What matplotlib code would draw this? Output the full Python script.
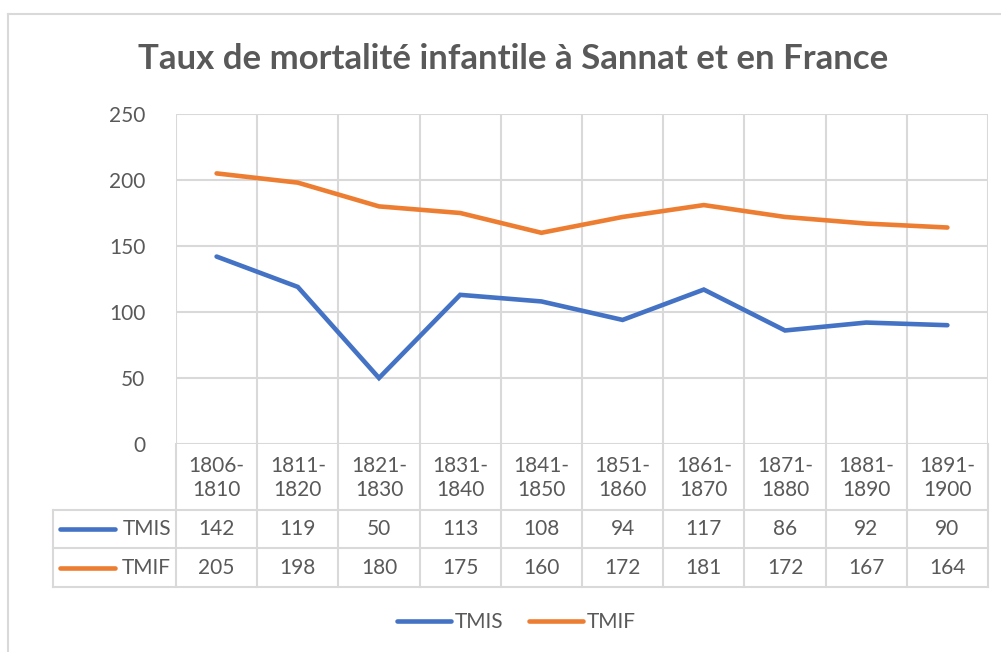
import matplotlib.pyplot as plt
from matplotlib.lines import Line2D

plt.rcParams['font.family'] = ['Lato', 'DejaVu Sans']

periods = ['1806-\n1810', '1811-\n1820', '1821-\n1830', '1831-\n1840', '1841-\n1850',
           '1851-\n1860', '1861-\n1870', '1871-\n1880', '1881-\n1890', '1891-\n1900']
tmis = [142, 119, 50, 113, 108, 94, 117, 86, 92, 90]
tmif = [205, 198, 180, 175, 160, 172, 181, 172, 167, 164]
series = [('TMIS', tmis, '#4472C4'), ('TMIF', tmif, '#ED7D31')]

grid_c = '#D9D9D9'
txt_c = '#595959'
W, H = 1001, 652
fs = 15

fig = plt.figure(figsize=(W / 100, H / 100), dpi=100)

# outer chart border (only top/left visible)
fig.add_artist(Line2D([8 / W, 1], [1 - 14 / H, 1 - 14 / H], color=grid_c, lw=1.5))
fig.add_artist(Line2D([8 / W, 8 / W], [0, 1 - 14 / H], color=grid_c, lw=1.5))

fig.text(0.5125, 1 - 59 / H, 'Taux de mortalité infantile à Sannat et en France',
         ha='center', va='center', fontsize=25, fontweight='bold', color=txt_c)

# plot area
x0, x1, ytop, ybot = 176, 988, 114, 444
ax = fig.add_axes([x0 / W, 1 - ybot / H, (x1 - x0) / W, (ybot - ytop) / H])
n = len(periods)
ax.set_xlim(-0.5, n - 0.5)
ax.set_ylim(0, 250)
ax.set_yticks(range(0, 251, 50))
ax.set_xticks([])
ax.tick_params(axis='y', length=0, labelsize=fs, labelcolor=txt_c, pad=22)
for s in ax.spines.values():
    s.set_visible(False)
ax.grid(axis='y', color=grid_c, lw=1.5)
for i in range(n + 1):
    ax.axvline(i - 0.5, color=grid_c, lw=1.5, zorder=0)
for name, vals, col in series:
    ax.plot(range(n), vals, color=col, lw=3.3, solid_capstyle='round',
            solid_joinstyle='miter', zorder=3)

# data table below the plot
tb_bot = 587
tax = fig.add_axes([x0 / W, 1 - tb_bot / H, (x1 - x0) / W, (tb_bot - ybot) / H])
tax.set_xlim(-0.5, n - 0.5)
tax.set_ylim(tb_bot - ybot, 0)
tax.axis('off')
cw = (x1 - x0) / n
left = -0.5 - (x0 - 53) / cw
rows = [510 - ybot, 548 - ybot, tb_bot - ybot]
for i in range(n + 1):
    tax.plot([i - 0.5, i - 0.5], [0, rows[2]], color=grid_c, lw=1.5, clip_on=False)
for r in rows:
    tax.plot([left, n - 0.5], [r, r], color=grid_c, lw=1.5, clip_on=False)
tax.plot([left, left], [rows[0], rows[2]], color=grid_c, lw=1.5, clip_on=False)
for i, p in enumerate(periods):
    tax.text(i, rows[0] / 2 + 1, p, ha='center', va='center', fontsize=fs,
             color=txt_c, linespacing=1.25)
for k, (name, vals, col) in enumerate(series):
    yc = (rows[k] + rows[k + 1]) / 2
    for i, v in enumerate(vals):
        tax.text(i, yc, str(v), ha='center', va='center', fontsize=fs, color=txt_c)
    tax.plot([left + 0.09, left + 0.76], [yc, yc], color=col, lw=3.3,
             solid_capstyle='round', clip_on=False)
    tax.text(-0.56, yc, name, ha='right', va='center', fontsize=fs, color=txt_c)

# legend
handles = [Line2D([], [], color=c, lw=3.3, solid_capstyle='round') for _, _, c in series]
fig.legend(handles, [s[0] for s in series], loc='center', bbox_to_anchor=(0.516, 1 - 622 / H),
           ncol=2, frameon=False, fontsize=fs, handlelength=2.6, handletextpad=0.2,
           columnspacing=1.2, labelcolor=txt_c)

fig.savefig('out.png', dpi=100)
